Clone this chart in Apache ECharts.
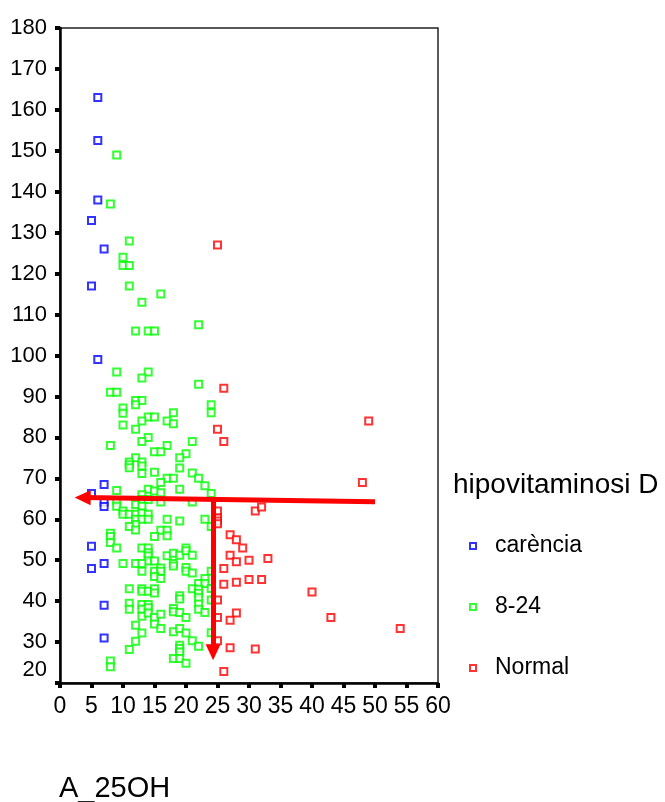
<!DOCTYPE html>
<html>
<head>
<meta charset="utf-8">
<script src="https://cdn.jsdelivr.net/npm/echarts@6/dist/echarts.min.js"></script>
<style>
html,body{margin:0;padding:0;background:#fff;}
#chart{width:665px;height:802px;}
</style>
</head>
<body>
<div id="chart"></div>
<script>
// ---- data ----
var legendTitle = 'hipovitaminosi D';
var xTitle = 'A_25OH';
var seriesNames = ['carència', '8-24', 'Normal'];
var seriesColors = ['#0000ff', '#00ff00', '#ff0000'];

var carencia = [
  [6,163],[6,152.5],[6,138],[5,133],[7,126],[5,117],[6,99],[7,68.5],[5,66.3],
  [7,64.2],[7,63.1],[5,53.4],[7,49.2],[5,48],[7,39],[7,31]
];

var grup824 = [
  [9,149],[8,137],[11,128],[10,124],[10,122],[11,122],[11,117],[16,115],[13,113],
  [22,107.5],[12,106],[14,106],[15,106],
  [9,96],[14,96],[13,94.5],[22,93],[8,91],[9,91],[12,89],[13,89],[12,88],[24,88],
  [24,86],[10,87.2],[10,85.9],[18,86],[14,85],[15,85],[17,84],[13,84],[10,83],
  [18,83.3],[12,82],[14,80],[13,79],[21,79],[8,78],[17,78],[15,76.5],[16,76.5],
  [20,76],[19,75],[12,75],
  [11,74],[11,73.3],[11,72.6],[13,74],[13,73],[13,71.2],[15,71.5],[19,72.5],
  [17,70],[18,70],[21,71.3],[22,70],[23,68.2],[16,69],[19,67.3],[24,66.3],[9,67],
  [14,67.3],[15,66.9],[16,66.5],[13,66],[13,64.8],[14,64.8],[16,64.2],[21,64.2],
  [9,64.5],[9,63.2],[12,63.6],[13,63.2],
  [10,62],[10,61.2],[11,61.2],[12,61.2],[13,61.5],[14,61.2],[12,60],[13,60],[14,60],
  [12,58.7],[11,58.2],[12,57.4],[17,60],[19,59.6],[23,60],[24,58.2],[16,57.3],
  [17,57.3],[17,56],[15,55.8],[8,56.6],[8,55.8],[8,54.3],[9,53],
  [13,53],[14,53],[14,51.8],[14,51],[14,49.8],[15,49.8],[10,49.2],[12,49.2],[13,49.2],
  [13,47.3],[17,51.1],[18,51.7],[19,51.2],[20,53],[20,52.3],[21,51.2],[18,49.2],
  [18,48.6],[20,48.2],[20,47.3],[21,46.9],[24,47.3],[15,47.3],[16,48.1],[16,47.3],
  [15,46],[16,45.5],
  [23,45.5],[22,44.3],[23,44.3],[21,43],[22,42.9],[22,41.9],[22,40.8],[24,43.1],
  [24,40.3],[19,41.3],[19,40.5],[22,39.3],[22,38],[23,37.2],
  [11,43],[13,43],[13,42.4],[14,42.4],[15,43],[15,42],
  [11,39.5],[11,38],[13,39.2],[14,39.2],[13,38],[14,38.4],[13,36.3],[14,37.1],
  [15,36],[16,36.8],[18,38.2],[18,37.4],[19,37.2],[20,36],
  [12,34.1],[15,34.4],[16,33.3],[13,32.2],[18,32.5],[19,33.3],[20,32.2],[24,32.3],
  [12,30.2],[21,30.3],[22,29],[11,28.2],[19,29.2],[19,28.4],[19,27.6],[8,25.4],
  [8,24],[18,26],[19,26],[20,24.8]
];

var normal = [
  [25,127],[26,92],[25,82],[26,79],[49,84],[48,69],[31,62],[32,63],[25,62],
  [25,60.3],[25,59.6],[25,58.9],[27,56.2],[28,55],[29,53],[27,51.2],[28,49.6],
  [30,50],[33,50.4],[26,48],[26,44.1],[28,44.6],[30,45.3],[32,45.3],[40,42.2],
  [25,40.3],[43,36],[28,37.1],[25,36],[27,35.3],[54,33.3],[25,30.3],[27,28.6],
  [31,28.3],[26,22.8]
];

// annotation arrows (data coordinates): [start, end]
var arrowH = [[50, 64.3], [3.6, 65.3]];
var arrowV = [[24.3, 65.2], [24.3, 27.5]];

var xMin = 0, xMax = 60, xStep = 5;
var yMin = 20, yMax = 180, yStep = 10;

// ---- chart ----
var FONT = 'Liberation Sans, Arial, sans-serif';
var chart = echarts.init(document.getElementById('chart'), null, {renderer: 'canvas'});

function scatterSeries(name, data, color) {
  return {
    name: name,
    type: 'scatter',
    data: data,
    symbol: 'emptyRect',
    symbolSize: 7,
    itemStyle: {color: color, borderColor: color, borderWidth: 1.5},
    emphasis: {disabled: true},
    silent: true
  };
}

var option = {
  animation: false,
  backgroundColor: '#ffffff',
  title: [
    {
      text: legendTitle, left: 453, top: 471, padding: 0,
      textStyle: {fontFamily: FONT, fontSize: 28, fontWeight: 'normal', color: '#000'}
    },
    {
      text: xTitle, left: 59, top: 774, padding: 0,
      textStyle: {fontFamily: FONT, fontSize: 29, fontWeight: 'normal', color: '#000'}
    }
  ],
  legend: {
    orient: 'vertical',
    left: 469,
    top: 534,
    padding: 0,
    itemWidth: 6,
    itemHeight: 6,
    itemGap: 37,
    selectedMode: false,
    data: seriesNames.map(function (n) { return {name: n, icon: 'emptyRect'}; }),
    itemStyle: {borderWidth: 1.5},
    textStyle: {fontFamily: FONT, fontSize: 23, color: '#000', lineHeight: 24, padding: [0, 0, 0, 14]}
  },
  grid: {
    left: 60, top: 28, width: 378, height: 655,
    show: true, borderColor: '#222', borderWidth: 1.5, backgroundColor: '#fff'
  },
  xAxis: {
    type: 'value', min: xMin, max: xMax, interval: xStep,
    splitLine: {show: false},
    axisLine: {show: true, onZero: false, lineStyle: {color: '#000', width: 2.5}},
    axisTick: {show: true, inside: false, length: 5, lineStyle: {color: '#000', width: 4}},
    axisLabel: {fontFamily: FONT, fontSize: 23, color: '#000', margin: 12}
  },
  yAxis: {
    type: 'value', min: yMin, max: yMax, interval: yStep,
    splitLine: {show: false},
    axisLine: {show: true, onZero: false, lineStyle: {color: '#000', width: 2.5}},
    axisTick: {show: true, inside: false, length: 5, lineStyle: {color: '#000', width: 4}},
    axisLabel: {
      fontFamily: FONT, fontSize: 22, color: '#000', margin: 13,
      formatter: function (v) { return v === yMin ? '{lo|' + v + '}' : String(v); },
      rich: {lo: {fontFamily: FONT, fontSize: 22, color: '#000', padding: [0, 0, 26, 0]}}
    }
  },
  series: [
    scatterSeries(seriesNames[0], carencia, seriesColors[0]),
    scatterSeries(seriesNames[1], grup824, seriesColors[1]),
    scatterSeries(seriesNames[2], normal, seriesColors[2]),
    {
      name: 'arrows',
      type: 'scatter',
      data: [],
      z: 10,
      silent: true,
      markLine: {
        silent: true,
        animation: false,
        symbol: ['none', 'triangle'],
        symbolSize: [15, 16],
        label: {show: false},
        emphasis: {disabled: true},
        lineStyle: {color: '#ff0000', width: 5, type: 'solid', opacity: 1},
        data: [
          [{coord: arrowH[0]}, {coord: arrowH[1]}],
          [{coord: arrowV[0]}, {coord: arrowV[1]}]
        ]
      }
    }
  ]
};
chart.setOption(option);
</script>
</body>
</html>
